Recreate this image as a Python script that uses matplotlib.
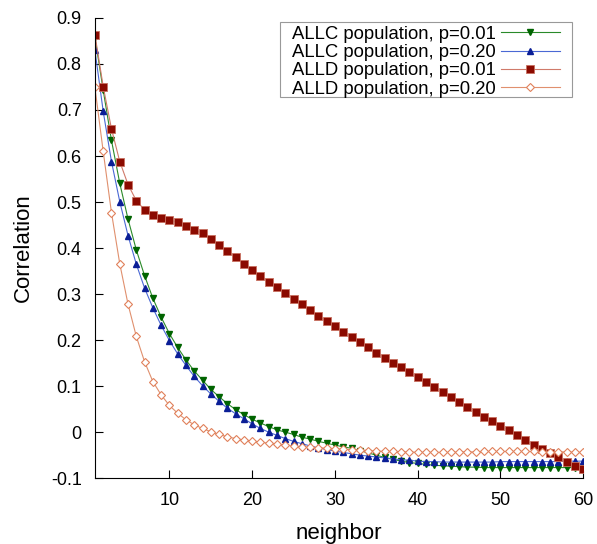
import matplotlib
matplotlib.use("Agg")
import matplotlib.pyplot as plt
from matplotlib.patches import Rectangle

plt.rcParams['font.family'] = ['Liberation Sans', 'DejaVu Sans']
plt.rcParams['axes.unicode_minus'] = False

neighbor = list(range(1, 61))

# ALLC population, p=0.01
allc_001 = [0.858, 0.743, 0.634, 0.541, 0.463, 0.396, 0.340, 0.291, 0.250, 0.214,
            0.184, 0.157, 0.133, 0.113, 0.093, 0.077, 0.062, 0.049, 0.038, 0.028,
            0.020, 0.012, 0.005, 0.000, -0.005, -0.011, -0.015, -0.020, -0.024, -0.028,
            -0.032, -0.035, -0.040, -0.045, -0.050, -0.055, -0.059, -0.063, -0.066, -0.068,
            -0.070, -0.072, -0.073, -0.074, -0.075, -0.076, -0.076, -0.077, -0.077, -0.077,
            -0.077, -0.077, -0.077, -0.077, -0.077, -0.077, -0.077, -0.077, -0.077, -0.077]

# ALLC population, p=0.20
allc_020 = [0.830, 0.697, 0.588, 0.501, 0.427, 0.365, 0.313, 0.270, 0.232, 0.199,
            0.170, 0.145, 0.121, 0.101, 0.083, 0.067, 0.052, 0.040, 0.029, 0.018,
            0.008, 0.000, -0.007, -0.014, -0.020, -0.025, -0.030, -0.034, -0.038, -0.041,
            -0.044, -0.047, -0.050, -0.052, -0.054, -0.056, -0.058, -0.060, -0.061, -0.063,
            -0.064, -0.064, -0.065, -0.065, -0.065, -0.065, -0.065, -0.065, -0.065, -0.064,
            -0.064, -0.064, -0.064, -0.064, -0.064, -0.064, -0.064, -0.063, -0.063, -0.063]

# ALLD population, p=0.01
alld_001 = [0.864, 0.751, 0.659, 0.588, 0.538, 0.503, 0.483, 0.472, 0.465, 0.461,
            0.456, 0.448, 0.440, 0.432, 0.420, 0.406, 0.393, 0.380, 0.366, 0.352,
            0.339, 0.327, 0.315, 0.302, 0.290, 0.278, 0.266, 0.253, 0.241, 0.230,
            0.217, 0.207, 0.195, 0.184, 0.173, 0.162, 0.151, 0.141, 0.130, 0.120,
            0.109, 0.098, 0.087, 0.076, 0.065, 0.054, 0.044, 0.034, 0.025, 0.014,
            0.004, -0.006, -0.017, -0.028, -0.036, -0.046, -0.055, -0.064, -0.073, -0.080]

# ALLD population, p=0.20
alld_020 = [0.749, 0.610, 0.477, 0.366, 0.278, 0.208, 0.153, 0.110, 0.081, 0.058,
            0.041, 0.027, 0.016, 0.008, 0.001, -0.005, -0.010, -0.014, -0.017, -0.019,
            -0.022, -0.024, -0.026, -0.028, -0.030, -0.032, -0.033, -0.034, -0.035, -0.036,
            -0.037, -0.038, -0.039, -0.040, -0.041, -0.042, -0.042, -0.043, -0.043, -0.044,
            -0.044, -0.044, -0.044, -0.044, -0.043, -0.043, -0.043, -0.042, -0.042, -0.042,
            -0.042, -0.042, -0.042, -0.042, -0.043, -0.043, -0.043, -0.043, -0.044, -0.044]

ytick_vals = [-0.1, 0, 0.1, 0.2, 0.3, 0.4, 0.5, 0.6, 0.7, 0.8, 0.9]
ytick_labels = ['-0.1', '0', '0.1', '0.2', '0.3', '0.4', '0.5', '0.6', '0.7', '0.8', '0.9']
xtick_vals = [10, 20, 30, 40, 50, 60]

fig = plt.figure(figsize=(5.97, 5.44), dpi=100)
ax = fig.add_axes([0.159, 0.121, 0.818, 0.846])

ax.plot(neighbor, allc_001, color='#2a8a2a', lw=0.8, marker='v', ms=4.6,
        mfc='#006400', mec='#006400', label='ALLC population, p=0.01')
ax.plot(neighbor, allc_020, color='#4a68d4', lw=0.8, marker='^', ms=4.6,
        mfc='#0a1e96', mec='#0a1e96', label='ALLC population, p=0.20')
ax.plot(neighbor, alld_001, color='#d07a6a', lw=0.8, marker='s', ms=5.2,
        mfc='#8b0a00', mec='#c87060', mew=0.6, label='ALLD population, p=0.01')
ax.plot(neighbor, alld_020, color='#e0906e', lw=0.8, marker='D', ms=4.2,
        mfc='white', mec='#e0805a', mew=0.8, label='ALLD population, p=0.20')

ax.set_xlim(1, 60)
ax.set_ylim(-0.1, 0.9)
ax.set_xticks(xtick_vals)
ax.set_yticks(ytick_vals)
ax.set_yticklabels(ytick_labels)
ax.tick_params(direction='in', length=6, labelsize=13)
ax.tick_params(axis='y', pad=9.5)
ax.tick_params(axis='x', pad=10)
ax.spines['top'].set_visible(False)
ax.spines['right'].set_visible(False)

ax.set_xlabel('neighbor', fontsize=16, labelpad=10)
ax.set_ylabel('Correlation', fontsize=16, labelpad=12)

# gnuplot-like key box, wider than the entries
ax.add_patch(Rectangle((0.379, 0.828), 0.598, 0.163, transform=ax.transAxes,
                       facecolor='white', edgecolor='#999999', lw=0.8,
                       zorder=4, clip_on=False))
leg = ax.legend(loc='upper right', bbox_to_anchor=(0.960, 0.991), borderaxespad=0,
                fontsize=13.3, markerfirst=False, handlelength=3.2, labelspacing=0.07,
                borderpad=0.2, handletextpad=0.3, frameon=False)
leg.set_zorder(5)

fig.savefig('out.png', dpi=100)
